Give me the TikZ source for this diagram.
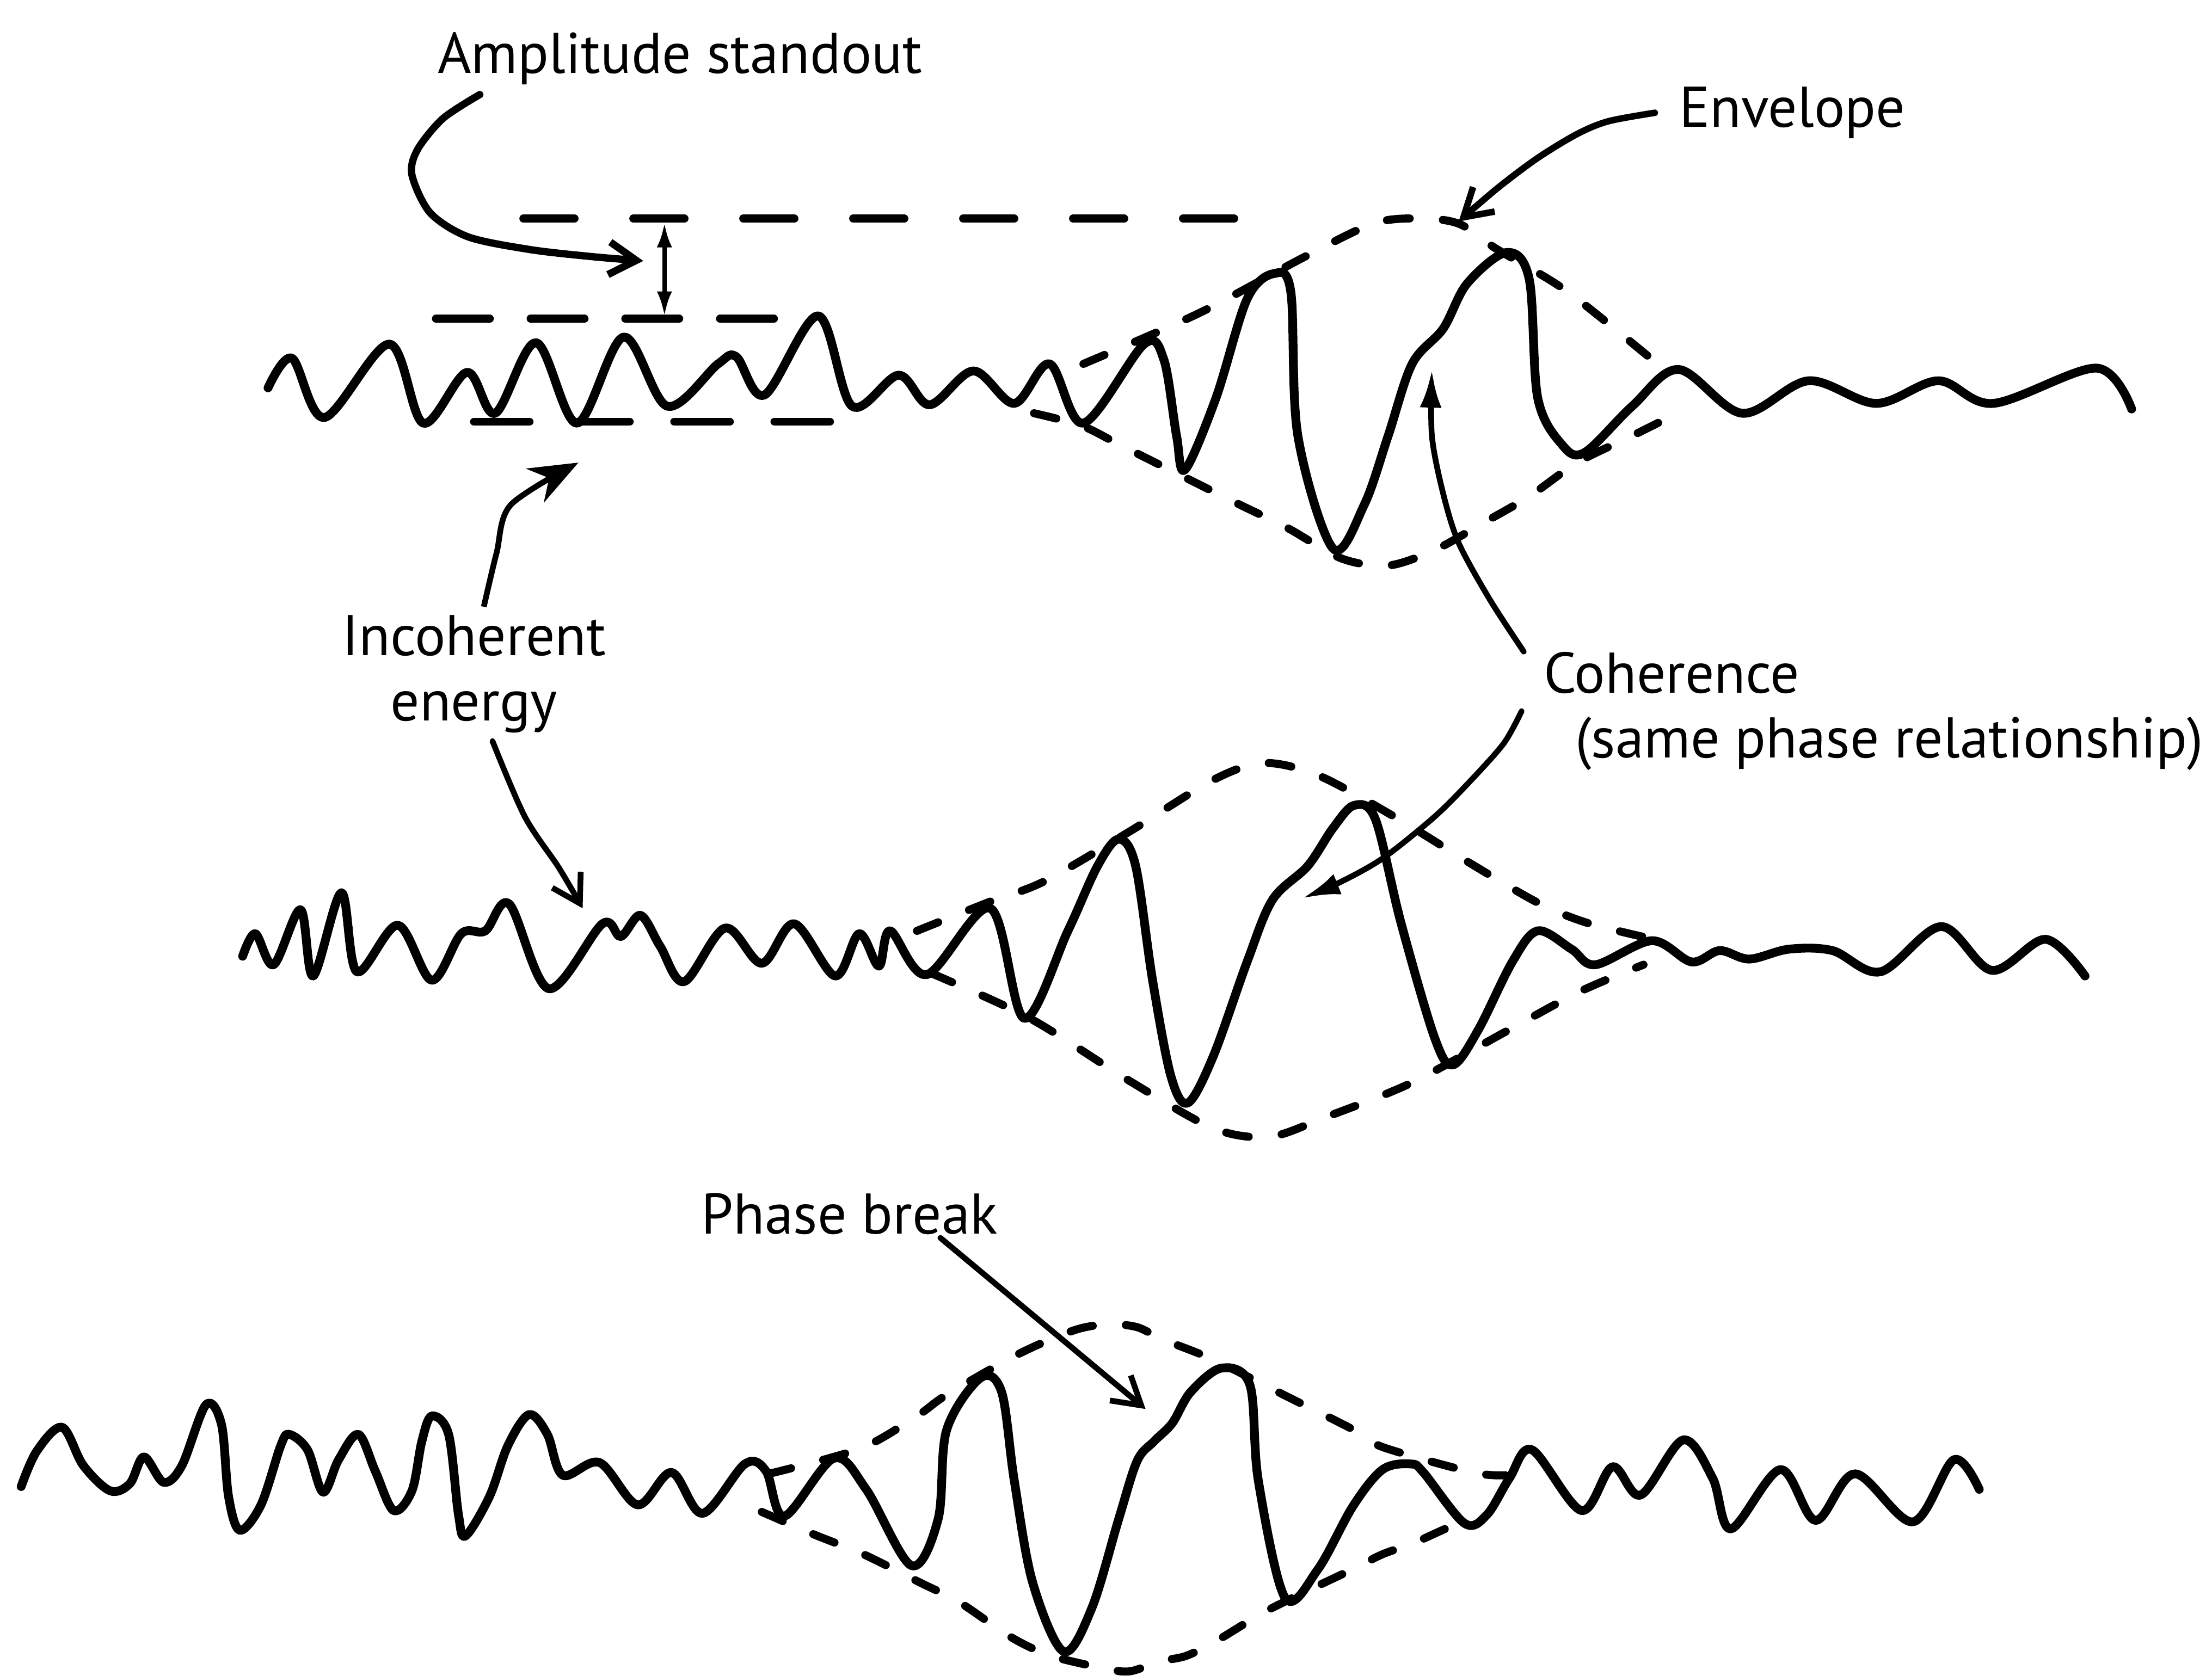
\documentclass[tikz,border=0pt]{standalone}
\usepackage{fontspec}
\setmainfont{PT Sans}
\usetikzlibrary{arrows.meta}

\begin{document}
\begin{tikzpicture}[x=0.2592mm,y=-0.2592mm,
  trace/.style={line width=4.6pt,line join=round,line cap=round},
  envl/.style={line width=4.2pt,line cap=round,dash pattern=on 4.2mm off 6.1mm},
  lvl/.style={line width=4.2pt,line cap=round},
  lbl/.style={inner sep=0pt,font=\fontsize{30}{34}\selectfont},
  barb/.style={line width=3pt,line cap=round,-{Straight Barb[length=5mm,width=6mm]}},
  solidtip/.style={line width=3pt,line cap=round,-{Latex[length=7mm,width=4mm]}}]
\useasboundingbox (0,0) rectangle (1568,1188);

% labels
\node[lbl,anchor=base west] (amp) at (310,52) {Amplitude standout};
\node[lbl,anchor=base west] (env) at (1190,90) {Envelope};
\node[lbl,align=center,anchor=north] (incoh) at (336,436) {Incoherent\\energy};
\node[lbl,align=left,anchor=north west] (coh) at (1094,462) {Coherence\\\hspace*{0.55em}(same phase relationship)};
\node[lbl,anchor=base west] (phase) at (497,875) {Phase break};

% top trace
\draw[trace] plot[smooth,tension=0.55] coordinates {(190,275) (207,254) (230,296) (276,244) (300,300) (331,264) (351,293) (380,243) (409,300) (442,239) (473,288) (509,258) (522,253) (542,280) (580,224) (604,288) (637,266) (659,287) (690,263) (719,286) (744,258) (768,300) (811,244) (825,255) (834,309) (840,333) (862,282) (884,212) (903,194) (915,207) (920,309) (945,389) (967,358) (984,309) (1001,258) (1023,233) (1040,201) (1068,179) (1084,198) (1090,282) (1107,315) (1123,321) (1157,288) (1190,262) (1235,293) (1282,270) (1330,286) (1374,270) (1413,286) (1486,261) (1511,290)};
\draw[lvl,dash pattern=on 9.4mm off 10.8mm] (371,155) -- (889,155);
\draw[lvl,dash pattern=on 9.9mm off 7.5mm] (309,226) -- (553,226);
\draw[lvl,dash pattern=on 10.2mm off 8.2mm] (336,299) -- (602,299);
\draw[envl] plot[smooth] coordinates {(768,258) (850,222) (925,182) (975,158) (1010,155) (1035,159) (1060,176) (1110,206) (1170,254)};
\draw[envl] plot[smooth] coordinates {(733,293) (767,302) (797,317) (873,355) (912,374) (951,396) (984,401) (1017,390) (1051,371) (1084,352) (1118,328) (1157,309) (1193,291)};

% middle trace
\draw[trace] plot[smooth,tension=0.55] coordinates {(172,678) (181,662) (194,684) (213,645) (222,692) (242,633) (253,689) (282,656) (306,695) (327,662) (344,660) (361,641) (389,701) (427,655) (440,664) (454,649) (468,671) (485,696) (514,658) (540,683) (563,655) (592,692) (609,662) (623,685) (631,660) (657,691) (702,644) (726,722) (757,660) (778,614) (793,595) (805,614) (817,695) (830,763) (842,782) (860,749) (884,682) (902,638) (927,614) (945,587) (960,571) (975,581) (993,654) (1017,736) (1030,755) (1048,730) (1072,682) (1090,660) (1114,673) (1131,684) (1171,667) (1199,682) (1219,674) (1240,680) (1268,673) (1299,674) (1333,689) (1376,657) (1412,688) (1450,666) (1478,692)};
\draw[envl] plot[smooth] coordinates {(650,660) (700,640) (740,625) (800,590) (860,553) (896,541) (935,550) (990,580) (1042,612) (1090,640) (1124,654) (1168,665)};
\draw[envl] plot[smooth] coordinates {(660,690) (730,722) (800,766) (860,800) (900,806) (940,792) (1000,768) (1070,730) (1120,703) (1165,684)};

% bottom trace
\draw[trace] plot[smooth,tension=0.55] coordinates {(15,1054) (26,1029) (44,1012) (59,1039) (78,1057) (92,1052) (102,1033) (116,1051) (129,1039) (146,996) (157,1010) (162,1061) (170,1085) (185,1067) (199,1025) (205,1017) (218,1028) (229,1058) (240,1035) (254,1017) (266,1043) (279,1071) (292,1057) (299,1022) (306,1004) (318,1017) (325,1074) (330,1089) (347,1061) (360,1025) (375,1003) (388,1017) (399,1046) (425,1037) (452,1067) (476,1044) (498,1073) (528,1038) (543,1043) (556,1075) (591,1034) (614,1056) (646,1110) (665,1077) (671,1014) (695,977) (710,987) (719,1050) (732,1122) (754,1171) (774,1140) (793,1077) (806,1036) (818,1022) (831,1009) (844,987) (866,970) (886,982) (892,1050) (911,1133) (934,1113) (959,1068) (980,1042) (1000,1038) (1009,1044) (1038,1080) (1054,1074) (1070,1048) (1086,1028) (1121,1071) (1143,1040) (1163,1060) (1193,1021) (1214,1048) (1227,1084) (1262,1042) (1287,1078) (1315,1045) (1356,1079) (1385,1035) (1403,1056)};
\draw[envl] plot[smooth] coordinates {(545,1045) (610,1027) (650,1004) (671,989) (722,960) (762,943) (786,939) (806,941) (825,950) (860,964) (914,991) (958,1013) (980,1026) (1044,1044) (1067,1046)};
\draw[envl] plot[smooth] coordinates {(540,1072) (577,1088) (612,1102) (652,1122) (680,1136) (717,1161) (745,1174) (783,1183) (801,1185) (822,1178) (841,1174) (863,1163) (900,1141) (958,1113) (980,1102) (1000,1095) (1020,1086) (1040,1077)};

% pointers
\coordinate (stT) at (471,158);
\coordinate (stB) at (471,224);
\draw[line width=2.2pt,{Latex[length=4.5mm,width=2.8mm]}-{Latex[length=4.5mm,width=2.8mm]}] (stT) -- (stB);

\coordinate (ampS) at ([xshift=7.8mm,yshift=-3.9mm]amp.base west);
\coordinate (ampT) at (456,185);
\draw[barb,line width=3.8pt] plot[smooth] coordinates {(ampS) (314,84) (296,106) (292,124) (305,151) (332,168) (376,177) (420,182) (ampT)};

\coordinate (envS) at ([xshift=-4.4mm,yshift=2.6mm]env.base west);
\coordinate (envT) at (1034,157);
\draw[barb,line width=3.4pt] plot[smooth] coordinates {(envS) (1140,86) (1118,95) (1090,112) (1062,133) (envT)};

\coordinate (iupS) at ([xshift=1.8mm,yshift=1.5mm]incoh.north);
\coordinate (iupT) at (410,328);
\draw[line width=3pt,-{Stealth[length=9mm,width=7mm]}] plot[smooth] coordinates {(iupS) (352,392) (362,358) (iupT)};

\coordinate (idnS) at ([xshift=3.4mm,yshift=-1.5mm]incoh.south);
\coordinate (idnT) at (413,644);
\draw[barb] plot[smooth] coordinates {(idnS) (372,579) (396,615) (idnT)};

\coordinate (coh1S) at ([xshift=-3.6mm]coh.north west);
\coordinate (coh1T) at (1015,262);
\draw[solidtip] plot[smooth] coordinates {(coh1S) (1056,425) (1034,385) (1023,350) (1015,309) (coh1T)};

\coordinate (coh2S) at ([xshift=-4mm]coh.west);
\coordinate (coh2T) at (923,637);
\draw[solidtip] plot[smooth] coordinates {(coh2S) (1066,527) (1042,554) (1017,579) (981,608) (951,625) (coh2T)};

\coordinate (phS) at ([xshift=-10.6mm,yshift=-0.5mm]phase.south east);
\coordinate (phT) at (812,999);
\draw[barb] (phS) -- (phT);
\end{tikzpicture}
\end{document}
